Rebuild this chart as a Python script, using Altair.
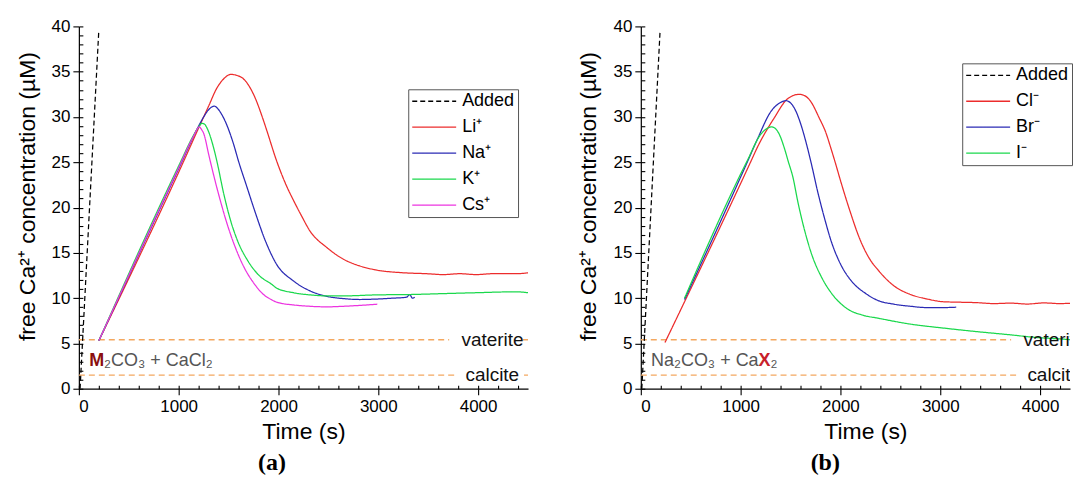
import altair as alt
import pandas as pd

# ---------------- data: panel (a) ----------------
a_names = ["Added", "Li⁺", "Na⁺", "K⁺", "Cs⁺"]
a_added_t = [12, 200]
a_added_c = [0, 39.6]
a_li_t = [200, 1000, 1250, 1300, 1383, 1450, 1523, 1580, 1650, 1750, 1850, 1883, 1983, 2080, 2150, 2230,
          2316, 2483, 2650, 2816, 2983, 3250, 3483, 3650, 3816, 3980, 4150, 4383, 4500]
a_li_c = [5.3, 23.9, 30.0, 31.2, 33.2, 34.2, 34.7, 34.6, 34.2, 32.5, 29.6, 28.5, 25.1, 22.4, 20.8, 19.1,
          17.4, 15.6, 14.3, 13.55, 13.1, 12.8, 12.7, 12.6, 12.7, 12.6, 12.7, 12.7, 12.8]
a_na_t = [200, 1000, 1200, 1250, 1300, 1357, 1400, 1450, 1550, 1600, 1680, 1763, 1866, 1983, 2150, 2316,
          2483, 2650, 2816, 2983, 3150, 3283, 3316, 3340, 3366]
a_na_c = [5.3, 24.3, 29.0, 30.0, 30.8, 31.2, 30.8, 29.9, 27.0, 25.1, 22.4, 19.6, 16.4, 13.7, 11.9, 10.8,
          10.2, 9.95, 9.85, 9.9, 10.0, 10.1, 10.4, 10.0, 10.1]
a_k_t = [200, 1000, 1150, 1200, 1233, 1260, 1283, 1350, 1383, 1454, 1522, 1591, 1694, 1797, 1935, 1983,
         2150, 2316, 2483, 2650, 2983, 3316, 3650, 3983, 4383, 4500]
a_k_c = [5.3, 24.6, 28.0, 28.9, 29.3, 29.2, 28.8, 26.6, 25.1, 21.4, 18.5, 16.3, 14.1, 12.6, 11.5, 11.1,
         10.6, 10.36, 10.25, 10.25, 10.36, 10.4, 10.5, 10.6, 10.7, 10.6]
a_cs_t = [200, 1000, 1150, 1206, 1230, 1250, 1300, 1317, 1419, 1488, 1557, 1660, 1763, 1850, 1935, 1983,
          2150, 2316, 2483, 2650, 2816, 2990]
a_cs_c = [5.3, 24.4, 27.9, 28.9, 28.6, 28.2, 25.9, 25.1, 20.7, 18.1, 15.9, 13.3, 11.5, 10.4, 9.8, 9.55,
          9.25, 9.1, 9.04, 9.1, 9.2, 9.33]

# ---------------- data: panel (b) ----------------
b_names = ["Added", "Cl⁻", "Br⁻", "I⁻"]
b_added_t = [10, 193]
b_added_c = [0, 39.5]
b_cl_t = [242, 1103, 1170, 1337, 1470, 1587, 1650, 1703, 1787, 1853, 1903, 1950, 2000, 2090, 2195, 2300,
          2370, 2537, 2703, 2870, 3037, 3200, 3370, 3540, 3703, 3870, 4037, 4200, 4370, 4500]
b_cl_c = [5.1, 25.1, 26.7, 29.9, 32.0, 32.5, 32.3, 31.7, 29.9, 28.3, 26.6, 24.9, 23.0, 19.8, 16.5, 14.2,
          13.2, 11.35, 10.4, 9.9, 9.6, 9.55, 9.5, 9.4, 9.45, 9.35, 9.47, 9.4, 9.45, 9.4]
b_br_t = [438, 1070, 1170, 1303, 1400, 1453, 1537, 1603, 1653, 1703, 1771, 1841, 1910, 2013, 2117, 2255,
          2370, 2537, 2703, 2870, 3037, 3160]
b_br_c = [9.85, 25.1, 27.6, 30.6, 31.6, 31.8, 31.0, 29.2, 27.3, 25.1, 21.8, 18.8, 16.2, 13.5, 11.8, 10.5,
          9.77, 9.33, 9.1, 8.96, 8.96, 9.0]
b_i_t = [438, 1063, 1203, 1260, 1310, 1350, 1387, 1437, 1477, 1525, 1574, 1643, 1713, 1816, 1920, 2058,
         2230, 2370, 2703, 3037, 3370, 3703, 3970, 4200, 4380]
b_i_c = [10.0, 25.1, 28.1, 28.7, 28.9, 28.7, 28.1, 26.6, 25.1, 23.3, 20.6, 17.4, 14.8, 12.2, 10.4, 8.9,
         8.1, 7.8, 7.13, 6.69, 6.3, 5.95, 5.65, 5.5, 5.35]

# ---------------- reference levels (solubility) ----------------
ref_names = ["vaterite", "calcite"]
ref_levels = [5.4, 1.5]
ref_gap_start = [3710, 3760]
ref_gap_end = [4450, 4460]
ref_label_t = [3833, 3873]

# ---------------- annotation texts ----------------
a_annot = ["M", "₂CO₃ + CaCl₂"]
b_annot = ["Na₂CO₃ + Ca", "X", "₂"]

# ---------------- styles ----------------
RED, BLUE, GREEN, MAGENTA = "#ec2c2c", "#2a2ab4", "#1ad84c", "#ec34e0"
ORANGE = "#f4a860"
FONT = "Liberation Sans"
H = 363


def frame(names, series):
    rows = []
    for name, (ts, cs) in zip(names, series):
        for t, c in zip(ts, cs):
            rows.append({"series": name, "t": t, "c": c})
    return pd.DataFrame(rows)


def panel(df, names, colors, xmax, width, legend_xy, annot_parts, panel_title, title_x=None):
    xs = alt.Scale(domain=[0, xmax], nice=False, zero=False)
    ys = alt.Scale(domain=[0, 40], nice=False)
    xax_kw = dict(values=list(range(0, xmax + 1, 1000)), title="Time (s)", tickSize=6,
                  labelPadding=4, titlePadding=6, grid=False, format="d")
    if title_x is not None:
        xax_kw["titleX"] = title_x
    x_major = alt.Axis(**xax_kw)
    y_major = alt.Axis(values=list(range(0, 41, 5)), title="free Ca²⁺ concentration (µM)",
                       tickSize=6, labelPadding=3, titlePadding=12, grid=False, titleY=170)
    dashes = [[5, 3]] + [[1, 0]] * (len(names) - 1)
    leg = alt.Legend(orient="none", legendX=legend_xy[0], legendY=legend_xy[1], title=None,
                     symbolType="stroke", symbolSize=1936, symbolStrokeWidth=1.3, clipHeight=18,
                     labelFont=FONT, labelFontSize=18, labelOffset=5, rowPadding=8,
                     padding=3, strokeColor="#555555", fillColor="white", labelLimit=200)
    lines = alt.Chart(df).mark_line(strokeWidth=1.25, clip=True, interpolate="monotone").encode(
        x=alt.X("t:Q", scale=xs, axis=x_major),
        y=alt.Y("c:Q", scale=ys, axis=y_major),
        color=alt.Color("series:N", scale=alt.Scale(domain=names, range=colors), legend=leg),
        strokeDash=alt.StrokeDash("series:N", scale=alt.Scale(domain=names, range=dashes), legend=leg),
        order=alt.Order("t:Q"),
    )
    minor = alt.Chart(df).mark_point(opacity=0, clip=True).encode(
        x=alt.X("t:Q", scale=xs, axis=alt.Axis(orient="top", offset=-H, values=list(range(0, xmax + 1, 200)),
                                               labels=False, domain=False, tickSize=3.5, title=None, grid=False)),
        y=alt.Y("c:Q", scale=ys, axis=alt.Axis(orient="right", offset=-width, values=list(range(0, 41)),
                                               labels=False, domain=False, tickSize=4, title=None, grid=False)),
    )
    seg = pd.DataFrame({
        "level": ref_levels * 2,
        "x0": [0, 0] + ref_gap_end,
        "x1": ref_gap_start + [4500, 4500],
    })
    rules = alt.Chart(seg).mark_rule(color=ORANGE, strokeDash=[6, 4], strokeWidth=1.4, clip=True).encode(
        x=alt.X("x0:Q", scale=xs, axis=None), x2="x1:Q", y=alt.Y("level:Q", scale=ys, axis=None))
    labs = pd.DataFrame({"name": ref_names, "level": ref_levels, "t": ref_label_t})
    ref_text = alt.Chart(labs).mark_text(align="left", baseline="middle", fontSize=19, font=FONT,
                                         color="#111111", clip=True).encode(
        x=alt.X("t:Q", scale=xs, axis=None), y=alt.Y("level:Q", scale=ys, axis=None), text="name:N")

    layers = [rules, lines, minor, ref_text]
    for part in annot_parts:
        d = pd.DataFrame({"t": [part["t"]], "c": [2.5], "txt": [part["text"]]})
        layers.append(alt.Chart(d).mark_text(
            align=part["align"], baseline="alphabetic", fontSize=18, font=FONT, color=part["color"],
            fontWeight=part["weight"], dx=part.get("dx", 0)).encode(
            x=alt.X("t:Q", scale=xs, axis=None), y=alt.Y("c:Q", scale=ys, axis=None), text="txt:N"))
    return alt.layer(*layers).resolve_axis(x="independent", y="independent").properties(
        width=width, height=H,
        title=alt.TitleParams(panel_title, orient="bottom", anchor="middle", frame="bounds",
                              font="Liberation Serif", fontSize=24, fontWeight="bold", offset=7,
                              color="black"))


df_a = frame(a_names, [(a_added_t, a_added_c), (a_li_t, a_li_c), (a_na_t, a_na_c),
                       (a_k_t, a_k_c), (a_cs_t, a_cs_c)])
df_b = frame(b_names, [(b_added_t, b_added_c), (b_cl_t, b_cl_c), (b_br_t, b_br_c), (b_i_t, b_i_c)])

GRAY = "#555555"
left = panel(df_a, a_names, ["black", RED, BLUE, GREEN, MAGENTA], 4500, 450, (330, 63),
             [dict(t=253, text=a_annot[0], align="right", color="#8b0f0f", weight="bold"),
              dict(t=253, text=a_annot[1], align="left", color=GRAY, weight="normal")],
             "(a)")
right = panel(df_b, b_names, ["black", RED, BLUE, GREEN], 4300, 430, (322, 37),
              [dict(t=1180, text=b_annot[0], align="right", color=GRAY, weight="normal"),
               dict(t=1180, text=b_annot[1], align="left", color="#c8202a", weight="bold"),
               dict(t=1180, text=b_annot[2], align="left", color=GRAY, weight="normal", dx=12)],
              "(b)", title_x=225)

chart = alt.hconcat(left, right, spacing=50).resolve_scale(
    color="independent", strokeDash="independent"
).properties(
    padding={"left": 8, "top": 9, "right": 0, "bottom": 0}
).configure_view(stroke=None).configure_axis(
    labelFont=FONT, titleFont=FONT, labelFontSize=17, titleFontSize=23, titleFontWeight="normal",
    labelColor="black", titleColor="black", domainColor="black", tickColor="black",
    domainWidth=1.2, tickWidth=1.1
)

chart.save("out.html", embed_options={"renderer": "svg", "actions": False})
